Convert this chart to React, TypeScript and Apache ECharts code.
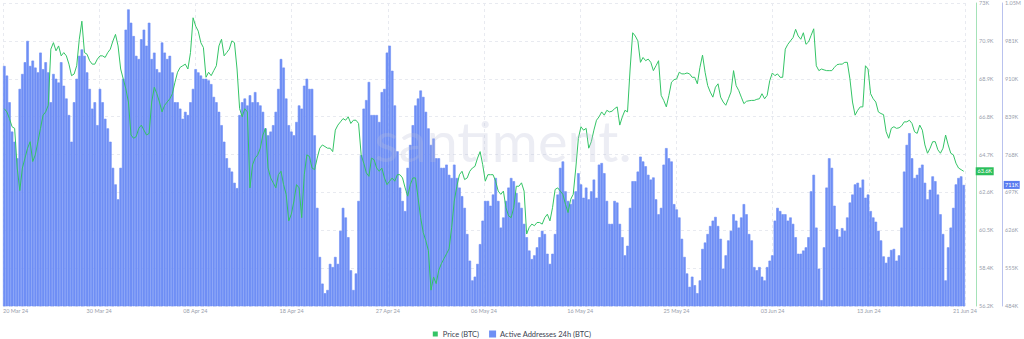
import React, { useEffect, useRef } from "react";
import * as echarts from "echarts";

// Active Addresses 24h (BTC), thousands, 6-hourly from 20 Mar 24
const activeK: number[] = [
  934,916,866,811,792,761,891,919,941,981, 934,944,931,922,959,928,941,922,866,919,
  910,903,941,897,873,842,792,866,910,953, 965,953,922,891,854,866,823,891,866,835,
  817,792,743,712,684,743,910,1002,1040,1015, 990,953,947,984,1002,972,1015,947,959,928,
  922,978,959,947,
  953,922,866,866,854,835,848,842,866,891, 928,922,916,910,910,907,900,876,866,848,
  823,792,761,743,736,715,705,842,866,873, 860,879,866,885,866,860,848,817,804,811,
  823,848,891,947,931,873,823,811,804,829, 860,854,897,910,891,891,804,668,576,526,
  508,514,
  563,557,576,563,625,668,650,613,551,514, 545,681,767,854,870,904,842,842,842,829,
  885,891,959,972,925,860,774,706,681,662, 743,786,823,860,873,888,876,848,817,786,
  798,761,761,743,743,749,730,724,749,724, 706,690,668,619,569,532,539,563,600,644,
  681,
  681,672,693,724,681,631,650,681,706,724, 718,696,678,668,638,613,588,572,579,594,
  613,625,619,582,563,582,619,693,743,755, 699,681,675,684,699,733,712,687,706,684,
  699,721,687,749,752,733,681,638,638,681, 678,638,613,579,597,668,718,718,736,764,
  755,
  746,730,721,725,684,656,668,749,780,761, 755,675,665,650,610,576,545,520,539,523,
  508,532,591,603,619,634,644,651,634,610, 554,579,607,625,656,644,631,650,675,656,
  619,607,557,551,557,539,532,557,569,579, 644,668,662,656,656,644,650,638,613,582,
  582,588,
  594,613,699,730,631,554,495,594,706,761, 743,672,628,614,630,625,650,678,693,712,
  715,706,721,687,693,662,650,642,625,607, 577,565,576,589,591,569,579,631,736,786,
  808,761,724,730,743,749,715,684,702,727, 718,693,656,619,532,594,631,668,712,724,
  727,711,
];

// Price (BTC), thousands USD
const priceK: number[] = [
  67.14,66.96,66.59,66.14,66.05,63.85,62.6,63.85,64.40,64.95, 65.31,64.21,64.58,65.31,66.05,66.78,66.96,67.33,70.44,70.80,
  70.35,70.62,70.07,70.25,70.07,69.61,68.97,69.06,69.52,70.99, 71.99,70.25,70.16,69.80,69.61,69.61,69.89,70.07,70.07,69.98,
  70.25,70.44,70.89,71.26,70.62,69.34,68.79,68.24,67.51,65.68, 65.50,65.59,66.05,66.23,65.95,65.68,65.77,67.51,68.33,67.97,
  67.51,66.96,67.33,67.51,
  67.69,67.97,68.61,69.16,69.43,69.52,69.61,69.34,70.25,72.18, 71.72,71.44,70.80,70.53,68.88,69.16,68.97,69.25,69.52,70.62,
  70.99,70.07,70.25,70.44,70.90,70.80,69.34,67.14,66.69,67.14, 66.96,62.75,64.03,64.40,64.58,64.95,65.68,66.05,63.85,63.30,
  63.03,62.75,63.48,63.67,62.93,62.39,60.92,61.29,62.02,62.93, 62.75,61.10,63.48,64.58,64.49,63.85,63.76,64.40,64.95,65.13,
  65.04,64.95,
  64.95,64.76,65.95,66.23,66.41,66.59,66.50,66.69,66.32,66.50, 66.50,66.32,64.58,64.12,63.58,63.39,64.40,64.31,63.85,63.67,
  63.85,63.30,62.93,63.12,63.30,63.12,63.48,63.48,63.30,62.75, 62.29,62.93,63.30,63.30,62.20,61.10,60.28,59.82,59.27,57.08,
  57.81,57.44,58.18,58.54,58.82,59.09,59.37,60.56,62.02,62.84, 63.48,63.67,63.21,63.30,63.67,63.85,63.94,64.40,64.76,64.03,
  63.12,
  63.48,63.48,63.48,63.12,62.57,62.39,62.57,61.65,61.20,61.10, 61.65,62.84,62.84,63.03,62.57,60.19,60.56,60.74,60.65,60.83,
  60.83,60.74,61.10,61.29,60.92,61.65,62.66,62.75,62.57,62.39, 61.84,61.38,62.11,62.39,63.85,65.50,66.14,65.95,66.05,64.95,
  65.31,65.95,66.50,66.69,66.96,66.78,67.05,66.96,67.00,67.14, 67.24,66.23,66.69,67.05,66.96,69.34,71.35,71.17,70.90,69.71,
  69.98,
  69.80,69.89,69.71,69.25,69.52,69.80,67.88,67.60,67.24,67.88, 68.61,68.75,68.79,69.16,69.07,69.07,69.12,69.07,68.88,68.88,
  68.52,69.43,70.11,69.16,68.42,68.06,67.78,68.33,68.52,67.78, 67.51,67.33,67.69,68.06,69.25,68.42,68.15,67.78,67.42,67.55,
  67.58,67.60,67.60,67.66,67.69,67.97,67.69,67.88,68.70,69.12, 68.97,69.07,68.88,68.88,70.44,70.71,70.90,71.08,71.54,71.17,
  70.99,71.35,
  70.71,70.84,71.21,71.57,69.52,69.25,69.34,69.29,69.25,69.25, 69.25,69.43,69.58,69.61,69.61,69.71,69.71,68.79,67.51,66.78,
  67.05,67.24,67.24,69.52,69.34,67.97,67.69,67.51,66.96,66.87, 66.81,65.86,65.50,66.05,66.14,66.05,66.08,66.19,66.41,66.41,
  66.50,66.32,65.86,65.77,66.23,65.95,65.13,64.67,64.95,65.31, 65.31,64.86,64.67,64.95,65.68,65.13,64.67,64.58,64.12,63.85,
  63.76,63.67,
];

const dateTicks: string[] = [
  "20 Mar 24", "30 Mar 24", "08 Apr 24", "18 Apr 24", "27 Apr 24", "06 May 24",
  "16 May 24", "25 May 24", "03 Jun 24", "13 Jun 24", "21 Jun 24",
];
const priceTicks: string[] = ["56.2K", "58.4K", "60.5K", "62.6K", "64.7K", "66.8K", "68.9K", "70.9K", "73K"];
const activeTicks: string[] = ["484K", "555K", "626K", "697K", "768K", "839K", "910K", "981K", "1.05M"];
const priceRange: number[] = [56.2, 73.0];
const activeRange: number[] = [484, 1052];
const seriesNames: string[] = ["Price (BTC)", "Active Addresses 24h (BTC)"];

const FONT = "Lato, 'Open Sans', sans-serif";
const GREEN = "#34c466";
const BLUE = "#6f8ff5";
const TICK = "#9aa0ac";

export default function App() {
  const ref = useRef<HTMLDivElement>(null);
  useEffect(() => {
    if (!ref.current) return;
    const chart = echarts.init(ref.current, undefined, { renderer: "svg" });
    const start = Date.UTC(2024, 2, 20, 0);
    const times = activeK.map((_, i) => new Date(start + i * 6 * 3600 * 1000).toISOString());
    const last = activeK.length - 1;
    const priceBadge = (Math.floor(priceK[last] * 10) / 10).toFixed(1) + "K";
    const activeBadge = Math.round(activeK[last]) + "K";

    chart.setOption({
      animation: false,
      textStyle: { fontFamily: FONT },
      grid: { left: 0, right: 59, top: 0, bottom: 33, containLabel: false },
      legend: {
        data: seriesNames,
        top: 325,
        left: "center",
        icon: "rect",
        itemWidth: 5,
        itemHeight: 5,
        itemGap: 10,
        textStyle: { fontSize: 7.5, color: "#3c4251", fontFamily: FONT },
      },
      xAxis: [
        {
          type: "category",
          data: times,
          show: false,
          boundaryGap: true,
        },
        {
          type: "value",
          min: 0,
          max: dateTicks.length - 1,
          interval: 1,
          position: "bottom",
          axisLine: { show: false },
          axisTick: { show: false },
          splitLine: { show: true, lineStyle: { color: "#e8eaf0", type: [3, 3], width: 1 } },
          axisLabel: {
            fontSize: 5.5,
            color: TICK,
            margin: 2,
            alignMinLabel: "left",
            formatter: (v: number) => dateTicks[Math.round(v)] ?? "",
          },
        },
      ],
      yAxis: [
        { type: "value", min: priceRange[0], max: priceRange[1], show: false },
        { type: "value", min: activeRange[0], max: activeRange[1], show: false },
        {
          type: "value",
          min: 0,
          max: priceTicks.length - 1,
          interval: 1,
          position: "right",
          offset: 11,
          axisLine: { show: true, lineStyle: { color: "#a5e2b8", width: 1 } },
          axisTick: { show: false },
          splitLine: { show: true, lineStyle: { color: "#e8eaf0", type: [3, 3], width: 1 } },
          axisLabel: {
            fontSize: 5.5,
            color: TICK,
            margin: 3,
            formatter: (v: number) => priceTicks[Math.round(v)] ?? "",
          },
        },
        {
          type: "value",
          min: 0,
          max: activeTicks.length - 1,
          interval: 1,
          position: "right",
          offset: 37,
          axisLine: { show: true, lineStyle: { color: "#b9c2ee", width: 1 } },
          axisTick: { show: false },
          splitLine: { show: false },
          axisLabel: {
            fontSize: 5.5,
            color: TICK,
            margin: 3,
            formatter: (v: number) => activeTicks[Math.round(v)] ?? "",
          },
        },
      ],
      series: [
        {
          name: seriesNames[0],
          type: "line",
          data: priceK,
          xAxisIndex: 0,
          yAxisIndex: 0,
          showSymbol: false,
          symbol: "none",
          z: 5,
          color: GREEN,
          lineStyle: { color: GREEN, width: 1 },
          markPoint: {
            symbol: "rect",
            symbolSize: [18, 8],
            symbolOffset: [21, 0],
            itemStyle: { color: "#2cbf5c" },
            label: { show: true, position: "inside", color: "#fff", fontSize: 5.5, formatter: priceBadge },
            data: [{ coord: [last, priceK[last]] }],
          },
        },
        {
          name: seriesNames[1],
          type: "bar",
          data: activeK,
          xAxisIndex: 0,
          yAxisIndex: 1,
          barCategoryGap: "0%",
          z: 2,
          color: BLUE,
          itemStyle: { color: BLUE, borderColor: BLUE, borderWidth: 0.6 },
          markPoint: {
            symbol: "rect",
            symbolSize: [16, 8],
            symbolOffset: [48, 0],
            itemStyle: { color: "#5a7cf0", borderWidth: 0 },
            label: { show: true, position: "inside", color: "#fff", fontSize: 5.5, formatter: activeBadge },
            data: [{ coord: [last, activeK[last]] }],
          },
        },
      ],
      graphic: [
        {
          type: "text",
          x: 503,
          y: 168,
          z: 100,
          silent: true,
          style: {
            text: "santiment.",
            fontSize: 56,
            fontFamily: FONT,
            fill: "rgba(185,190,216,0.28)",
            align: "center",
            verticalAlign: "bottom",
          },
        },
      ],
    });
    return () => chart.dispose();
  }, []);

  return (
    <div
      ref={ref}
      style={{ position: "fixed", left: 0, top: 0, width: 1024, height: 339, background: "#fff" }}
    />
  );
}
